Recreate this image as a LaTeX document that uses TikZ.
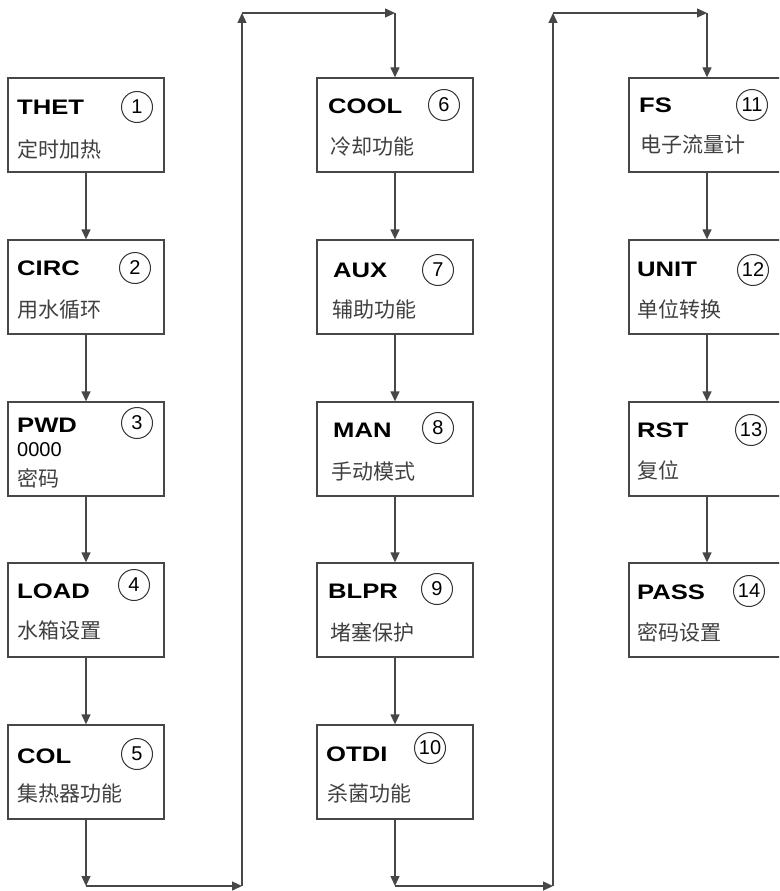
\documentclass[tikz,border=0pt]{standalone}
\usepackage{fontspec}
\setmainfont{Liberation Sans}
\newfontfamily\keyfont[FakeStretch=1.22]{Liberation Sans}
\newfontfamily\cjk{Noto Sans CJK SC}
\usetikzlibrary{arrows.meta}
\definecolor{linegray}{rgb}{0.28,0.28,0.28}

\begin{document}
\begin{tikzpicture}[x=1pt,y=-1pt,>={Triangle[length=10pt,width=9pt]},
  box/.style={draw=linegray,line width=1.3pt,minimum width=156pt,minimum height=94pt,inner sep=0pt},
  key/.style={anchor=west,inner sep=0pt,font=\keyfont\bfseries\fontsize{21}{21}\selectfont},
  num/.style={draw=black!80,circle,line width=1pt,minimum size=31pt,inner sep=0pt,font=\fontsize{20}{20}\selectfont},
  code/.style={anchor=west,inner sep=0pt,font=\fontsize{20}{20}\selectfont},
  cn/.style={anchor=west,inner sep=0pt,text=black!75,font=\cjk\fontsize{21}{21}\selectfont},
  flow/.style={->,draw=linegray,line width=1.3pt}]
\useasboundingbox (0,0) rectangle (779,891);
\clip (0,0) rectangle (779,891);
% first column
\node[box] (b1) at (86,125) {};
\node[key] (k1) at (17,107) {THET};
\node[num] (n1) at (137,107) {1};
\node[cn] (c1) at (17,149) {定时加热};
\node[box] (b2) at (86,287) {};
\node[key] (k2) at (17,268) {CIRC};
\node[num] (n2) at (135,268) {2};
\node[cn] (c2) at (17,310) {用水循环};
\node[box] (b3) at (86,449) {};
\node[key] (k3) at (17,425) {PWD};
\node[num] (n3) at (137,423) {3};
\node[code] (d3) at (17,450) {0000};
\node[cn] (c3) at (17,478) {密码};
\node[box] (b4) at (86,610) {};
\node[key] (k4) at (17,591) {LOAD};
\node[num] (n4) at (134,585) {4};
\node[cn] (c4) at (17,631) {水箱设置};
\node[box] (b5) at (86,772) {};
\node[key] (k5) at (17,756) {COL};
\node[num] (n5) at (137,754) {5};
\node[cn] (c5) at (17,794) {集热器功能};
% second column
\node[box] (b6) at (395,125) {};
\node[key] (k6) at (328,106) {COOL};
\node[num] (n6) at (444,105) {6};
\node[cn] (c6) at (330,147) {冷却功能};
\node[box] (b7) at (395,287) {};
\node[key] (k7) at (333,270) {AUX};
\node[num] (n7) at (438,270) {7};
\node[cn] (c7) at (332,310) {辅助功能};
\node[box] (b8) at (395,449) {};
\node[key] (k8) at (333,430) {MAN};
\node[num] (n8) at (438,428) {8};
\node[cn] (c8) at (331,472) {手动模式};
\node[box] (b9) at (395,610) {};
\node[key] (k9) at (328,591) {BLPR};
\node[num] (n9) at (437,589) {9};
\node[cn] (c9) at (330,632) {堵塞保护};
\node[box] (b10) at (395,772) {};
\node[key] (k10) at (326,754) {OTDI};
\node[num] (n10) at (430,748) {10};
\node[cn] (c10) at (327,793) {杀菌功能};
% third column
\node[box] (b11) at (707,125) {};
\node[key] (k11) at (639,105) {FS};
\node[num] (n11) at (752,105) {11};
\node[cn] (c11) at (640,145) {电子流量计};
\node[box] (b12) at (707,287) {};
\node[key] (k12) at (637,269) {UNIT};
\node[num] (n12) at (753,270) {12};
\node[cn] (c12) at (637,309) {单位转换};
\node[box] (b13) at (707,449) {};
\node[key] (k13) at (637,430) {RST};
\node[num] (n13) at (751,430) {13};
\node[cn] (c13) at (637,470) {复位};
\node[box] (b14) at (707,610) {};
\node[key] (k14) at (637,592) {PASS};
\node[num] (n14) at (749,591) {14};
\node[cn] (c14) at (637,632) {密码设置};
% turning points
\coordinate (p1) at (86,886);
\coordinate (p2) at (242,886);
\coordinate (p3) at (242,13);
\coordinate (p4) at (395,13);
\coordinate (q1) at (395,886);
\coordinate (q2) at (553,886);
\coordinate (q3) at (553,13);
\coordinate (q4) at (707,13);
% connectors
\draw[flow] (b1) -- (b2);
\draw[flow] (b2) -- (b3);
\draw[flow] (b3) -- (b4);
\draw[flow] (b4) -- (b5);
\draw[flow] (b5) -- (p1);
\draw[flow] (p1) -- (p2);
\draw[flow] (p2) -- (p3);
\draw[flow] (p3) -- (p4);
\draw[flow] (p4) -- (b6);
\draw[flow] (b6) -- (b7);
\draw[flow] (b7) -- (b8);
\draw[flow] (b8) -- (b9);
\draw[flow] (b9) -- (b10);
\draw[flow] (b10) -- (q1);
\draw[flow] (q1) -- (q2);
\draw[flow] (q2) -- (q3);
\draw[flow] (q3) -- (q4);
\draw[flow] (q4) -- (b11);
\draw[flow] (b11) -- (b12);
\draw[flow] (b12) -- (b13);
\draw[flow] (b13) -- (b14);
\end{tikzpicture}
\end{document}
